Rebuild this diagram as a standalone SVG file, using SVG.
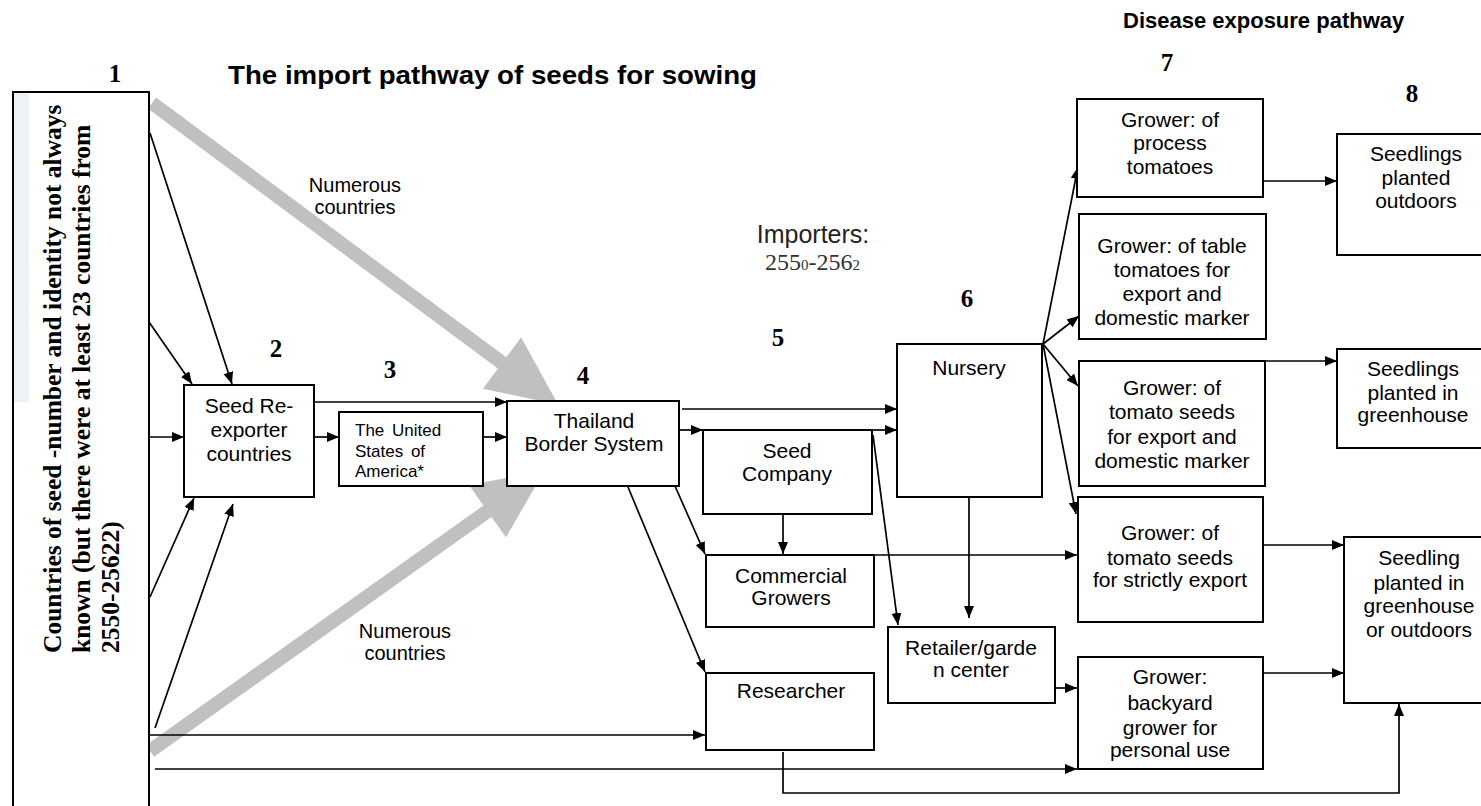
<svg xmlns="http://www.w3.org/2000/svg" width="1481" height="806" viewBox="0 0 1481 806">
<style>
.box{fill:#fff;stroke:#000;stroke-width:2}
.t{font-family:"Liberation Sans",Arial,sans-serif;font-size:21px;fill:#000;text-anchor:middle}
.ts{font-family:"Liberation Sans",Arial,sans-serif;font-size:17px;fill:#000}
.num{font-family:"Liberation Serif","Times New Roman",serif;font-weight:bold;font-size:25px;fill:#000;text-anchor:middle}
.vt{font-family:"Liberation Serif","Times New Roman",serif;font-weight:bold;font-size:25.5px;fill:#000}
.lbl{font-family:"Liberation Sans",Arial,sans-serif;font-size:20px;fill:#000;text-anchor:middle}
.ttl{font-family:"Liberation Sans",Arial,sans-serif;font-weight:bold;fill:#000}
.c{fill:none;stroke:#000;stroke-width:1.7}
.ca{fill:none;stroke:#000;stroke-width:1.7;marker-end:url(#ah)}
.gray{fill:#c0c0c0;stroke:none}
</style>
<defs>
<marker id="ah" markerUnits="userSpaceOnUse" markerWidth="13" markerHeight="11" refX="12" refY="5" orient="auto">
<path d="M0,0 L12,5 L0,10 z" fill="#000"/>
</marker>
</defs>
<rect width="1481" height="806" fill="#fff"/>

<!-- titles and numbers -->
<text class="ttl" x="1123" y="28" font-size="22">Disease exposure pathway</text>
<text class="ttl" x="228" y="84" font-size="26" textLength="529" lengthAdjust="spacingAndGlyphs">The import pathway of seeds for sowing</text>
<text class="num" x="115" y="82">1</text>
<text class="num" x="276" y="357">2</text>
<text class="num" x="390" y="378">3</text>
<text class="num" x="583" y="384">4</text>
<text class="num" x="778" y="346">5</text>
<text class="num" x="967" y="307">6</text>
<text class="num" x="1167" y="71">7</text>
<text class="num" x="1412" y="102">8</text>

<text class="lbl" x="355" y="192">Numerous</text>
<text class="lbl" x="355" y="214">countries</text>
<text class="lbl" x="405" y="638">Numerous</text>
<text class="lbl" x="405" y="660">countries</text>
<text x="813" y="243" font-family="Liberation Sans, Arial, sans-serif" font-size="25" fill="#222" text-anchor="middle">Importers:</text>
<text x="765" y="270" font-family="Liberation Serif, Times New Roman, serif" font-size="24" fill="#333">255<tspan font-size="15">0</tspan>-256<tspan font-size="15">2</tspan></text>

<!-- gray thick arrows -->
<g id="gray-arrows">
<polygon class="gray" transform="translate(152,103) rotate(36.6)" points="0,-7 436,-7 436,-32 506,0 436,32 436,7 0,7"/>
<polygon class="gray" transform="translate(150,751) rotate(-35.4)" points="0,-7 414,-7 414,-32 484,0 414,32 414,7 0,7"/>
</g>

<!-- connectors -->
<g id="connectors">
<line class="ca" x1="150" y1="133" x2="232" y2="384"/>
<line class="ca" x1="149" y1="322" x2="192" y2="384"/>
<line class="ca" x1="149" y1="437" x2="184" y2="437"/>
<line class="ca" x1="150" y1="597" x2="194" y2="498"/>
<line class="ca" x1="155" y1="728" x2="233" y2="504"/>
<line class="ca" x1="149" y1="735" x2="705" y2="735"/>
<line class="ca" x1="155" y1="769" x2="1077" y2="769"/>
<line class="ca" x1="314" y1="402" x2="507" y2="402"/>
<line class="ca" x1="314" y1="437" x2="339" y2="437"/>
<line class="ca" x1="483" y1="437" x2="507" y2="437"/>
<line class="ca" x1="682" y1="409" x2="897" y2="409"/>
<line class="ca" x1="679" y1="430" x2="703" y2="430"/>
<line class="ca" x1="872" y1="430" x2="897" y2="430"/>
<line class="ca" x1="628" y1="487" x2="705" y2="672"/>
<line class="ca" x1="675" y1="486" x2="705" y2="554"/>
<line class="ca" x1="783" y1="514" x2="783" y2="554"/>
<line class="ca" x1="874" y1="555" x2="1077" y2="555"/>
<line class="ca" x1="873" y1="435" x2="898" y2="625"/>
<line class="ca" x1="969" y1="497" x2="969" y2="618"/>
<line class="ca" x1="1043" y1="344" x2="1078" y2="167"/>
<line class="ca" x1="1043" y1="344" x2="1079" y2="316"/>
<line class="ca" x1="1043" y1="344" x2="1078" y2="386"/>
<line class="ca" x1="1043" y1="344" x2="1076" y2="514"/>
<line class="ca" x1="1055" y1="688" x2="1077" y2="688"/>
<polyline class="ca" points="783,752 783,793 1399,793 1399,704"/>
<line class="ca" x1="1263" y1="181" x2="1337" y2="181"/>
<line class="ca" x1="1265" y1="361" x2="1337" y2="361"/>
<line class="ca" x1="1263" y1="545" x2="1344" y2="545"/>
<line class="ca" x1="1263" y1="673" x2="1344" y2="673"/>
</g>

<!-- nodes -->
<g id="n-countries">
<rect class="box" x="13" y="92" width="136" height="730"/>
<rect x="14" y="93" width="15" height="309" fill="#eef2f7"/>
<text class="vt" transform="translate(61,653) rotate(-90)">Countries of seed -number and identity not always</text>
<text class="vt" transform="translate(90,653) rotate(-90)">known (but there were at least 23 countries from</text>
<text class="vt" transform="translate(119,653) rotate(-90)">2550-25622)</text>
</g>
<g id="n-reexporter">
<rect class="box" x="184" y="385" width="130" height="112"/>
<text class="t" x="249" y="413">Seed Re-</text>
<text class="t" x="249" y="437">exporter</text>
<text class="t" x="249" y="461">countries</text>
</g>
<g id="n-usa">
<rect class="box" x="339" y="412" width="144" height="74"/>
<text class="ts" x="355" y="436" word-spacing="3">The United</text>
<text class="ts" x="355" y="457" word-spacing="3">States of</text>
<text class="ts" x="355" y="477">America*</text>
</g>
<g id="n-thailand">
<rect class="box" x="507" y="401" width="172" height="85"/>
<text class="t" x="594" y="428">Thailand</text>
<text class="t" x="594" y="451">Border System</text>
</g>
<g id="n-seedco">
<rect class="box" x="703" y="430" width="169" height="84"/>
<text class="t" x="787" y="458">Seed</text>
<text class="t" x="787" y="481">Company</text>
</g>
<g id="n-nursery">
<rect class="box" x="897" y="344" width="145" height="153"/>
<text class="t" x="969" y="375">Nursery</text>
</g>
<g id="n-commercial">
<rect class="box" x="706" y="555" width="168" height="72"/>
<text class="t" x="791" y="583">Commercial</text>
<text class="t" x="791" y="605">Growers</text>
</g>
<g id="n-researcher">
<rect class="box" x="706" y="673" width="168" height="77"/>
<text class="t" x="791" y="698">Researcher</text>
</g>
<g id="n-retailer">
<rect class="box" x="888" y="627" width="167" height="76"/>
<text class="t" x="971" y="655">Retailer/garde</text>
<text class="t" x="971" y="677">n center</text>
</g>
<g id="n-process">
<rect class="box" x="1077" y="99" width="186" height="98"/>
<text class="t" x="1170" y="127">Grower: of</text>
<text class="t" x="1170" y="150">process</text>
<text class="t" x="1170" y="174">tomatoes</text>
</g>
<g id="n-table">
<rect class="box" x="1079" y="214" width="187" height="125"/>
<text class="t" x="1172" y="253">Grower: of table</text>
<text class="t" x="1172" y="277">tomatoes for</text>
<text class="t" x="1172" y="301">export and</text>
<text class="t" x="1172" y="325">domestic marker</text>
</g>
<g id="n-seeds-dom">
<rect class="box" x="1079" y="361" width="186" height="125"/>
<text class="t" x="1172" y="395">Grower: of</text>
<text class="t" x="1172" y="419">tomato seeds</text>
<text class="t" x="1172" y="444">for export and</text>
<text class="t" x="1172" y="468">domestic marker</text>
</g>
<g id="n-seeds-export">
<rect class="box" x="1078" y="497" width="185" height="125"/>
<text class="t" x="1170" y="540">Grower: of</text>
<text class="t" x="1170" y="565">tomato seeds</text>
<text class="t" x="1170" y="587">for strictly export</text>
</g>
<g id="n-backyard">
<rect class="box" x="1078" y="657" width="185" height="112"/>
<text class="t" x="1170" y="684">Grower:</text>
<text class="t" x="1170" y="710">backyard</text>
<text class="t" x="1170" y="735">grower for</text>
<text class="t" x="1170" y="757">personal use</text>
</g>
<g id="n-outdoors">
<rect class="box" x="1337" y="134" width="150" height="121"/>
<text class="t" x="1416" y="161">Seedlings</text>
<text class="t" x="1416" y="185">planted</text>
<text class="t" x="1416" y="208">outdoors</text>
</g>
<g id="n-greenhouse">
<rect class="box" x="1337" y="349" width="150" height="99"/>
<text class="t" x="1413" y="376">Seedlings</text>
<text class="t" x="1413" y="400">planted in</text>
<text class="t" x="1413" y="422">greenhouse</text>
</g>
<g id="n-either">
<rect class="box" x="1344" y="537" width="143" height="166"/>
<text class="t" x="1419" y="565">Seedling</text>
<text class="t" x="1419" y="590">planted in</text>
<text class="t" x="1419" y="613">greenhouse</text>
<text class="t" x="1419" y="637">or outdoors</text>
</g>
</svg>
